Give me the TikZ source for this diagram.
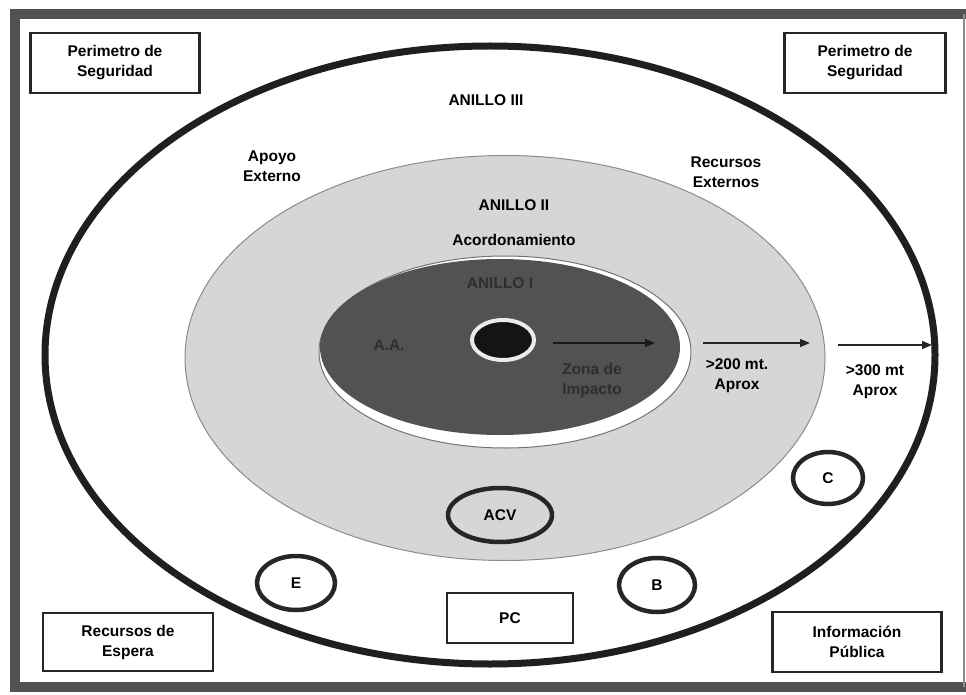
\documentclass[tikz,border=0pt]{standalone}
\usepackage{fontspec}
\setmainfont{Liberation Sans}
\usetikzlibrary{arrows.meta, positioning, shapes.geometric}

\begin{document}
\begin{tikzpicture}[
    x=1pt, y=-1pt,
    font=\fontsize{15.5}{20}\selectfont\bfseries,
    cajabox/.style={draw=black!85, line width=2.2pt, align=center, inner sep=0pt},
    anillo/.style={ellipse, inner sep=0pt},
    circulo/.style={ellipse, draw=black!85, line width=4.5pt, inner sep=0pt, align=center},
    flecha/.style={-{Triangle[length=10pt, width=8pt]}, line width=1.4pt, black!85},
    etiqueta/.style={align=center}
]
\useasboundingbox (0,0) rectangle (966,695);
\fill[white] (0,0) rectangle (966,695);

% marco exterior
\draw[black!68, line width=10pt, line join=miter] (966,14) -- (15,14) -- (15,687) -- (966,687);
\draw[black!45, line width=2pt] (964,14) -- (964,687);

% anillos
\node[anillo, draw=black!88, line width=7pt, minimum width=890pt, minimum height=618pt] (anillo3) at (490,355) {};
\node[anillo, fill=black!16, draw=black!45, line width=1pt, minimum width=640pt, minimum height=405pt] (anillo2) at (505,358) {};
\node[anillo, fill=white, draw=black!55, line width=1pt, minimum width=372pt, minimum height=192pt] (borde1) at (505,352) {};
\node[anillo, fill=black!68, minimum width=360pt, minimum height=176pt] (anillo1) at (500,347) {};
\node[anillo, fill=black!92, draw=black!8, line width=4pt, minimum width=62pt, minimum height=40pt] (centro) at (503,340) {};

% textos de los anillos
\node[etiqueta] (tanillo3) at (486,100) {ANILLO III};
\node[etiqueta] (apoyo) at (272,166) {Apoyo\\Externo};
\node[etiqueta] (recursos) at (726,172) {Recursos\\Externos};
\node[etiqueta] (tanillo2) at (514,205) {ANILLO II};
\node[etiqueta] (acordon) at (514,240) {Acordonamiento};
\node[etiqueta, text=black!82] (tanillo1) at (500,283) {ANILLO I};
\node[etiqueta, text=black!82] (aa) at (389,345) {A.A.};
\node[etiqueta, text=black!82] (zona) at (592,380) {Zona de\\Impacto};

% distancias
\coordinate (f1a) at (553,343);
\coordinate (f1b) at (655,343);
\coordinate (f2a) at (703,343);
\coordinate (f2b) at (810,343);
\coordinate (f3a) at (838,345);
\coordinate (f3b) at (932,345);
\draw[flecha, black!90] (f1a) -- (f1b);
\draw[flecha] (f2a) -- (f2b);
\draw[flecha] (f3a) -- (f3b);
\node[etiqueta] (d200) at (737,376) {>200 mt.\\Aprox};
\node[etiqueta] (d300) at (875,382) {>300 mt\\Aprox};

% areas
\node[circulo, minimum width=104pt, minimum height=54pt] (acv) at (500,515) {ACV};
\node[circulo, minimum width=70pt, minimum height=52pt] (c) at (828,478) {C};
\node[circulo, minimum width=78pt, minimum height=54pt] (e) at (296,583) {E};
\node[circulo, minimum width=76pt, minimum height=54pt] (b) at (657,585) {B};

% cuadros
\node[cajabox, minimum width=169pt, minimum height=60pt] (perim1) at (115,63) {Perimetro de\\Seguridad};
\node[cajabox, minimum width=161pt, minimum height=60pt] (perim2) at (865,63) {Perimetro de\\Seguridad};
\node[cajabox, minimum width=170pt, minimum height=58pt] (espera) at (128,642) {Recursos de\\Espera};
\node[cajabox, minimum width=169pt, minimum height=60pt] (info) at (857,642) {Información\\Pública};
\node[cajabox, minimum width=126pt, minimum height=50pt] (pc) at (510,618) {PC};

\end{tikzpicture}
\end{document}
